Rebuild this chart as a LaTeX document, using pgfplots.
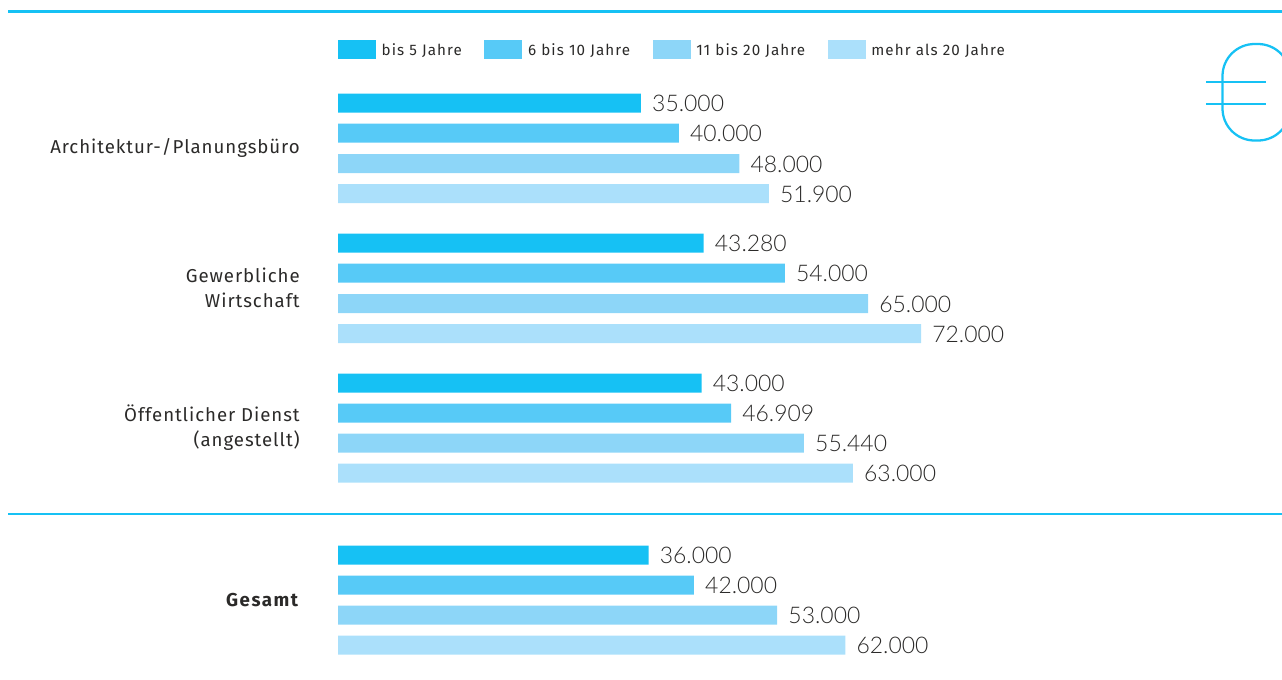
\documentclass[border=0pt]{standalone}
\usepackage{fontspec}
\usepackage{pgfplots}
\usepackage{pgfplotstable}
\pgfplotsset{compat=1.18}
\setmainfont{Fira Sans}
\newfontfamily\lightfont{Lato Light}
\definecolor{txt}{HTML}{2B2A29}
\definecolor{cA}{HTML}{16C1F4}
\definecolor{cB}{HTML}{57CAF7}
\definecolor{cC}{HTML}{8DD6F8}
\definecolor{cD}{HTML}{ABE0FB}
% y = row position in reference pixels from the top
\pgfplotstableread{
v y l
35000 103 35.000
43280 243 43.280
43000 383 43.000
36000 555 36.000
}\bisfuenf
\pgfplotstableread{
v y l
40000 133 40.000
54000 273 54.000
46909 413 46.909
42000 585 42.000
}\biszehn
% the 55.440 bar is drawn longer than its label in the reference
\pgfplotstableread{
v y l
48000 163.5 48.000
65000 303.5 65.000
56530 443 55.440
53000 615 53.000
}\biszwanzig
\pgfplotstableread{
v y l
51900 193.5 51.900
72000 333.5 72.000
63000 473 63.000
62000 645 62.000
}\mehr
\begin{document}
\begin{tikzpicture}
\useasboundingbox (0pt,0pt) rectangle (961.5pt,-509.25pt);
\begin{axis}[
    at={(253.5pt,-509.25pt)},
    anchor=south west,
    scale only axis,
    width=708pt,
    height=509.25pt,
    xbar,
    bar width=14.25pt,
    bar shift=0pt,
    % bars in the reference start left of zero
    x coord trafo/.code={\begingroup\pgfkeys{/pgf/fpu,/pgf/fpu/output format=fixed}\pgfmathparse{#1+5020}\pgfmathsmuggle\pgfmathresult\endgroup},
    xmin=-5020,
    xmax=119680,
    ymin=0,
    ymax=679,
    y dir=reverse,
    axis line style={draw=none},
    major tick length=0pt,
    xtick=\empty,
    ytick={148,288,428,600},
    yticklabels={Architektur-\kern0.8pt/\kern0.8pt Planungsbüro,Gewerbliche\\Wirtschaft,Öffentlicher Dienst\\(angestellt),{\addfontfeature{LetterSpace=8}\textbf{Gesamt}}},
    yticklabel style={align=right,inner sep=0pt,xshift=-28.5pt,text=txt,
        font=\fontsize{14}{18.8}\selectfont\addfontfeature{LetterSpace=5}},
    point meta=explicit symbolic,
    nodes near coords={\pgfplotspointmeta},
    nodes near coords style={anchor=west,inner sep=0pt,xshift=8.25pt,yshift=-0.6pt,text=txt,
        font=\lightfont\fontsize{17.2}{18}\selectfont},
    legend columns=4,
    legend image code/.code={\fill[#1] (0pt,-6.1pt) rectangle (28.5pt,8.15pt);},
    legend style={at={(0,0.9267)},anchor=west,draw=none,fill=none,inner sep=0pt,outer sep=0pt,
        font=\fontsize{11.4}{13}\selectfont\addfontfeature{LetterSpace=7.2},text=txt,
        /tikz/every odd column/.append style={column sep=2.25pt},
        /tikz/every even column/.append style={column sep=14.8pt}},
]
\addplot[draw=none,fill=cA] table[x=v,y=y,meta=l] {\bisfuenf};
\addplot[draw=none,fill=cB] table[x=v,y=y,meta=l] {\biszehn};
\addplot[draw=none,fill=cC] table[x=v,y=y,meta=l] {\biszwanzig};
\addplot[draw=none,fill=cD] table[x=v,y=y,meta=l] {\mehr};
\legend{bis 5 Jahre,6 bis 10 Jahre,11 bis 20 Jahre,mehr als 20 Jahre}
\end{axis}
% rules and the euro sign, in reference pixels
\begin{scope}[x=0.75pt,y=-0.75pt]
\clip (0,0) rectangle (1282,679);
\draw[cA,line width=2.25pt] (8,11.7) -- (1282,11.7);
\draw[cA,line width=1.2pt] (8,513.8) -- (1282,513.8);
\draw[cA,line width=1.7pt,rounded corners=24pt] (1222.5,44) rectangle (1290,140.5);
\draw[cA,line width=1.5pt] (1206,82) -- (1266,82) (1206,104) -- (1266,104);
\end{scope}
\end{tikzpicture}
\end{document}
